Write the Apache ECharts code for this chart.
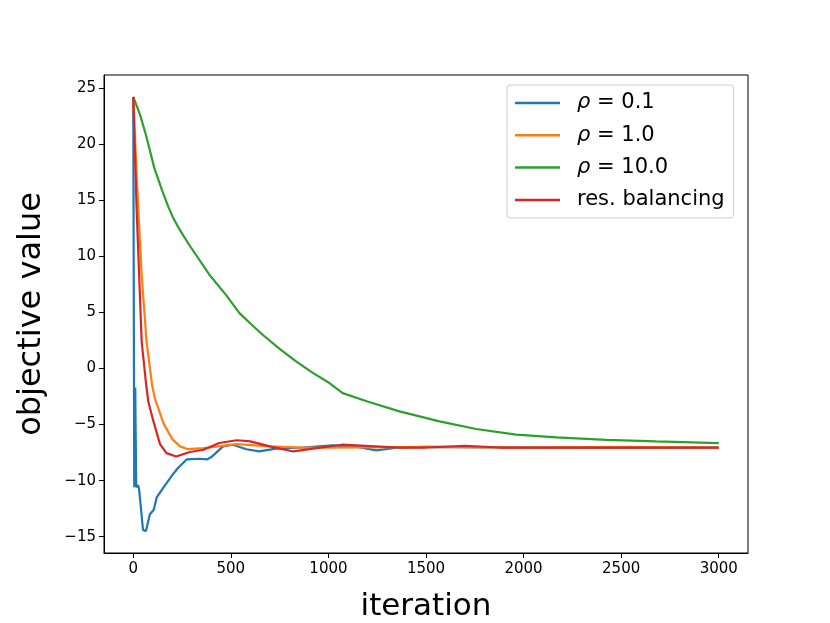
<!DOCTYPE html>
<html>
<head>
<meta charset="utf-8">
<script src="https://cdn.jsdelivr.net/npm/echarts@6/dist/echarts.min.js"></script>
<style>
  html, body { margin: 0; padding: 0; background: #ffffff; }
  #chart { width: 830px; height: 623px; }
</style>
</head>
<body>
<div id="chart"></div>
<script>
// data
const seriesNames = ['rho01', 'rho1', 'rho10', 'balancing'];

const rho01Iter = [0, 5, 10, 15, 20, 25, 30, 50, 65, 85, 105, 120, 155, 200, 230, 275, 340, 380, 400, 460, 510, 580, 645, 730, 870, 1020, 1150, 1245, 1360, 1500, 2000, 2500, 3000];
const rho01Obj = [24.2, -10.6, -1.7, -10.6, -10.5, -10.4, -10.8, -14.4, -14.5, -13.0, -12.6, -11.5, -10.6, -9.5, -8.85, -8.1, -8.05, -8.1, -7.9, -6.95, -6.8, -7.2, -7.4, -7.15, -7.05, -6.85, -7.0, -7.3, -7.05, -7.0, -7.05, -7.05, -7.05];

const rho1Iter = [0, 17, 43, 68, 96, 110, 155, 200, 240, 280, 360, 530, 700, 870, 1000, 1500, 2000, 2500, 3000];
const rho1Obj = [24.2, 17.3, 8.3, 2.4, -1.45, -2.65, -4.9, -6.3, -6.95, -7.2, -7.1, -6.75, -6.95, -7.05, -7.05, -7.0, -7.05, -7.0, -7.05];

const rho10Iter = [0, 5, 35, 65, 108, 150, 180, 202, 240, 287, 390, 475, 544, 600, 663, 750, 834, 920, 1005, 1073, 1200, 1364, 1569, 1757, 1962, 2168, 2424, 2680, 3000];
const rho10Obj = [24.2, 24.1, 22.6, 20.8, 17.85, 15.75, 14.4, 13.5, 12.3, 11.0, 8.35, 6.55, 4.93, 4.0, 3.0, 1.75, 0.62, -0.4, -1.3, -2.2, -2.95, -3.83, -4.72, -5.4, -5.9, -6.15, -6.36, -6.5, -6.65];

const balIter = [0, 17, 43, 65, 77, 103, 137, 170, 220, 290, 360, 440, 530, 600, 700, 820, 940, 1070, 1190, 1360, 1500, 1700, 1880, 2000, 2500, 3000];
const balObj = [24.2, 14.3, 2.4, -1.3, -2.95, -4.7, -6.75, -7.55, -7.85, -7.45, -7.25, -6.65, -6.4, -6.5, -6.95, -7.4, -7.1, -6.8, -6.9, -7.05, -7.05, -6.9, -7.05, -7.05, -7.05, -7.05];

const xTicks = [0, 500, 1000, 1500, 2000, 2500, 3000];
const yTicks = [-15, -10, -5, 0, 5, 10, 15, 20, 25];

const colors = ['#1f77b4', '#ff7f0e', '#2ca02c', '#d62728'];
const legendText = {
  rho01: '{r|ρ} = 0.1',
  rho1: '{r|ρ} = 1.0',
  rho10: '{r|ρ} = 10.0',
  balancing: 'res. balancing',
};

const font = 'DejaVu Sans';

function pairs(xs, ys) {
  return xs.map((x, i) => [x, ys[i]]);
}

function minusSign(v) {
  return String(v).replace('-', '\u2212');
}

const dataSets = [
  pairs(rho01Iter, rho01Obj),
  pairs(rho1Iter, rho1Obj),
  pairs(rho10Iter, rho10Obj),
  pairs(balIter, balObj),
];

const option = {
  backgroundColor: '#ffffff',
  animation: false,
  grid: {
    left: 104,
    right: 82,
    top: 75,
    bottom: 70,
    show: true,
    borderColor: '#000000',
    borderWidth: 1,
    containLabel: false,
    outerBoundsMode: 'none',
  },
  legend: {
    orient: 'vertical',
    left: 507,
    top: 85,
    padding: [7, 9, 7, 8],
    itemGap: 10.3,
    itemWidth: 45,
    itemHeight: 2.5,
    icon: 'rect',
    backgroundColor: 'rgba(255,255,255,0.8)',
    borderColor: '#cccccc',
    borderWidth: 1,
    borderRadius: 3,
    data: seriesNames,
    formatter: (name) => legendText[name],
    textStyle: {
      fontFamily: font,
      fontSize: 21,
      color: '#000000',
      lineHeight: 22,
      padding: [0, 0, 0, 12],
      rich: {
        r: { fontFamily: font, fontStyle: 'italic', fontSize: 21, color: '#000000' },
      },
    },
  },
  xAxis: {
    type: 'value',
    min: -150,
    max: 3150,
    name: 'iteration',
    nameLocation: 'middle',
    nameGap: 38,
    nameTextStyle: { fontFamily: font, fontSize: 31, color: '#000000' },
    axisLine: { show: true, onZero: false, lineStyle: { color: '#000000', width: 1 } },
    axisTick: { show: true, length: 5, customValues: xTicks, lineStyle: { color: '#000000' } },
    axisLabel: {
      customValues: xTicks,
      margin: 9,
      fontFamily: font,
      fontSize: 15,
      color: '#000000',
      formatter: minusSign,
    },
    splitLine: { show: false },
  },
  yAxis: {
    type: 'value',
    min: -16.45,
    max: 26.15,
    name: 'objective value',
    nameLocation: 'middle',
    nameGap: 56,
    nameTextStyle: { fontFamily: font, fontSize: 32, color: '#000000' },
    axisLine: { show: true, onZero: false, lineStyle: { color: '#000000', width: 1 } },
    axisTick: { show: true, length: 5, customValues: yTicks, lineStyle: { color: '#000000' } },
    axisLabel: {
      customValues: yTicks,
      margin: 8,
      fontFamily: font,
      fontSize: 15,
      color: '#000000',
      formatter: minusSign,
    },
    splitLine: { show: false },
  },
  series: seriesNames.map((name, i) => ({
    name: name,
    type: 'line',
    data: dataSets[i],
    symbol: 'none',
    smooth: false,
    color: colors[i],
    lineStyle: { width: 2.2, color: colors[i] },
    z: 2 + i,
  })),
};

const chart = echarts.init(document.getElementById('chart'));
chart.setOption(option);
</script>
</body>
</html>
